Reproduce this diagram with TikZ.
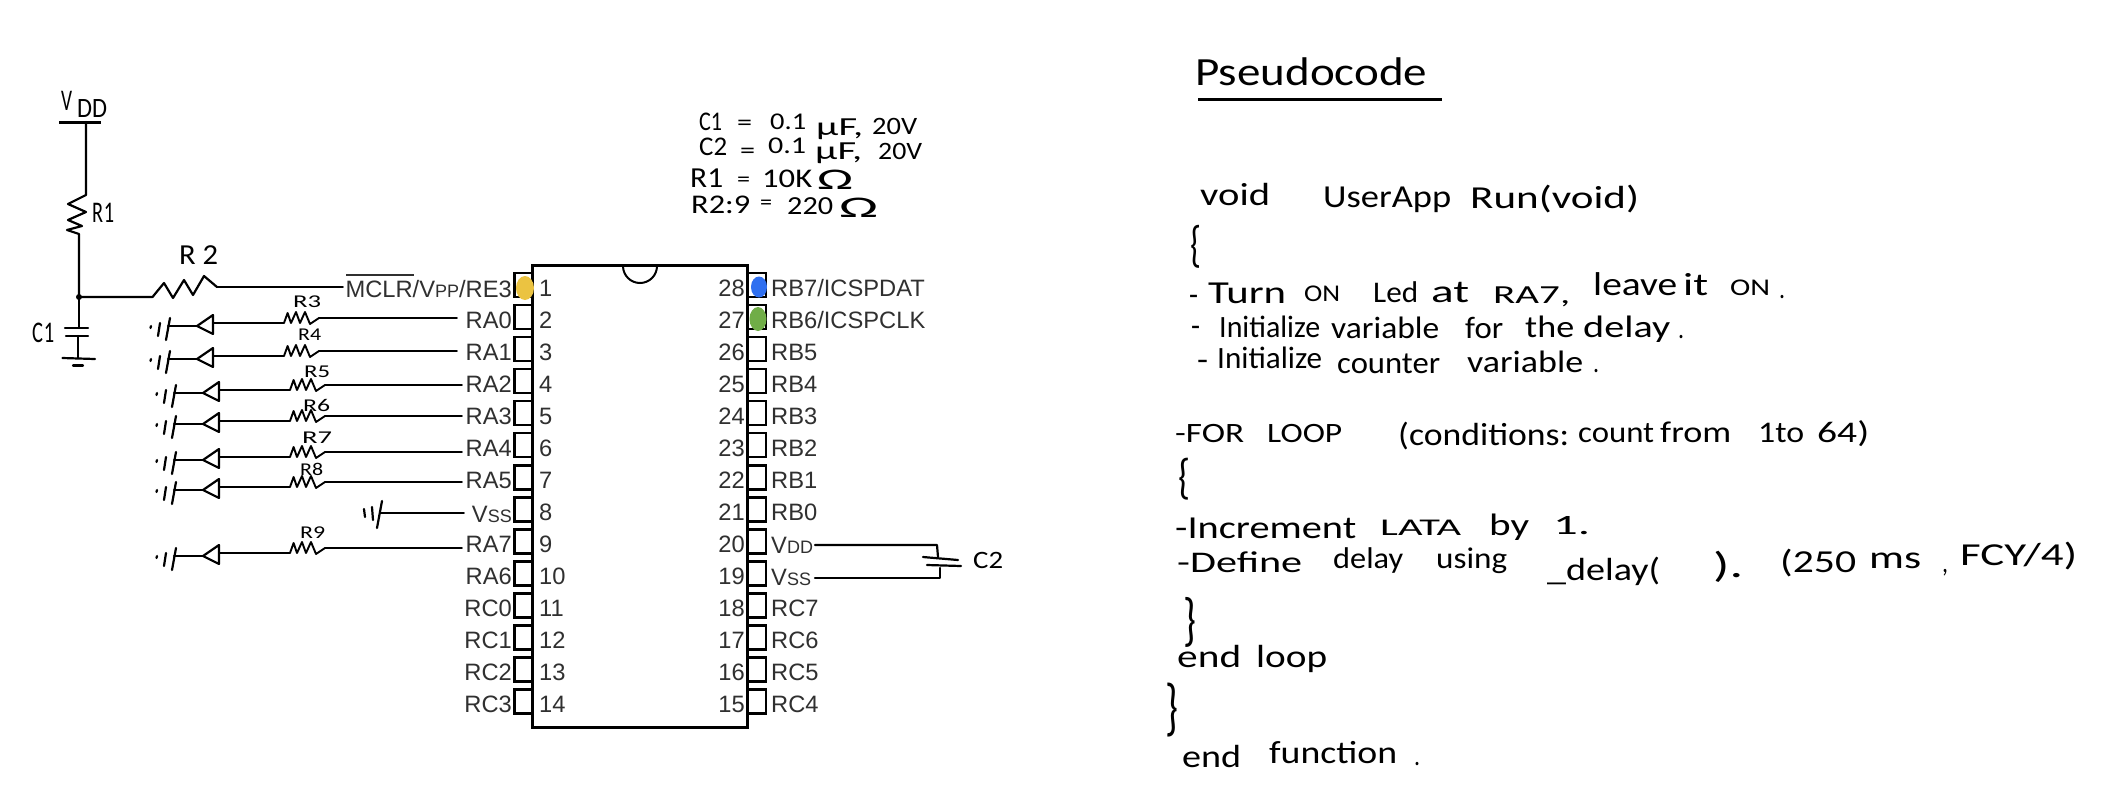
\documentclass[tikz,border=0pt]{standalone}
\usepackage{fontspec}
\usepackage{graphicx}
\setmainfont{Liberation Sans}
\newfontfamily\handfont{Carlito}
\definecolor{labelgray}{HTML}{303030}
\definecolor{pinyellow}{HTML}{EBC341}
\definecolor{pinblue}{HTML}{2F6FF0}
\definecolor{pingreen}{HTML}{70AD47}
\newcounter{hwc}
\tikzset{
  wire/.style={draw=black,line width=2.2pt,line cap=round,line join=round},
  thinwire/.style={draw=black,line width=1.9pt,line cap=round,line join=round},
  chip/.style={draw=black,line width=3pt},
  pinbox/.style={draw=black,line width=2.4pt,fill=white,minimum width=18pt,minimum height=24pt,inner sep=0pt},
  pinlabel/.style={inner sep=0pt,text=labelgray,font=\fontsize{23.7}{24}\selectfont},
  hand/.style={inner sep=0pt,anchor=base west,text=black},
  handbrace/.style={inner sep=0pt,anchor=north west,text=black}
}
% handwritten word: x left, x right, baseline y, font size, text
\newcommand{\hw}[5]{\stepcounter{hwc}\pgfmathsetmacro\hww{#2-#1}%
  \node[hand,font=\handfont\fontsize{#4}{#4}\selectfont] (hw\arabic{hwc}) at (#1,#3) {\resizebox{\hww pt}{\height}{#5}};}
% handwritten brace: x left, x right, y top, y bottom, glyph
\newcommand{\hwb}[5]{\stepcounter{hwc}\pgfmathsetmacro\hww{#2-#1}\pgfmathsetmacro\hwh{#4-#3}%
  \node[handbrace,font=\handfont\fontsize{30}{30}\selectfont] (hw\arabic{hwc}) at (#1,#3) {\resizebox*{\hww pt}{\hwh pt}{#5}};}
% LED branch: name, x of resistor start, wire y, wire length
\newcommand{\ledrow}[4]{%
\begin{scope}[shift={(#2,#3)}]
  \coordinate (#1end) at (#4,0);
  \coordinate (#1ra) at (35,0);
  \coordinate (#1rb) at (0,5);
  \coordinate (#1base) at (-71,5);
  \coordinate (#1tip) at (-87,8);
  \coordinate (#1bar) at (-116,8);
  \draw[thinwire] (#1end) -- (#1ra)
     -- (26,6) -- (21,-6) -- (16,5) -- (12,-6) -- (7,5) -- (3.6,-5) -- (#1rb) -- (#1base);
  \draw[wire] (-71,-3) -- (#1tip) -- (-71,16) -- cycle;
  \draw[wire] (#1tip) -- (#1bar);
  \draw[wire] (-114,0) -- (-118,22);
  \draw[wire] (-124,5) -- (-126,18);
  \draw[wire] (-133,8) -- (-133.5,10);
\end{scope}}
\begin{document}
\begin{tikzpicture}[x=1pt,y=-1pt]
\useasboundingbox (0,0) rectangle (2114,804);
\fill[white] (0,0) rectangle (2114,804);

% chip body and notch
\node[chip,minimum width=215pt,minimum height=462pt,inner sep=0pt] (ic) at (639.5,496) {};
\draw[line width=2pt] (623,266) arc[start angle=180,end angle=0,radius=17];

% pins
\foreach \n/\lab in {1/,2/RA0,3/RA1,4/RA2,5/RA3,6/RA4,7/RA5,8/,9/RA7,10/RA6,11/RC0,12/RC1,13/RC2,14/RC3}{
  \pgfmathsetmacro\py{285+32.05*(\n-1)}
  \node[pinbox] (L\n) at (523.5,\py) {};
  \node[pinlabel,anchor=base west] (Ln\n) at (539,\py+11) {\n};
  \node[pinlabel,anchor=base east] (Lt\n) at (512,\py+11) {\lab};
}
\foreach \n/\lab in {28/RB7\slash ICSPDAT,27/RB6\slash ICSPCLK,26/RB5,25/RB4,24/RB3,23/RB2,22/RB1,21/RB0,20/,19/,18/RC7,17/RC6,16/RC5,15/RC4}{
  \pgfmathsetmacro\py{285+32.05*(28-\n)}
  \node[pinbox] (R\n) at (757,\py) {};
  \node[pinlabel,anchor=base east] (Rn\n) at (745,\py+11) {\n};
  \node[pinlabel,anchor=base west] (Rt\n) at (771,\py+11) {\lab};
}
\node[pinlabel,anchor=base east] (mclr) at (512,297) {MCLR/V{\fontsize{18}{18}\selectfont PP}/RE3};
\draw[line width=2pt,draw=labelgray] (346,275) -- (414,275);
\node[pinlabel,anchor=base east] (vssL) at (512,522) {V{\fontsize{18}{18}\selectfont SS}};
\node[pinlabel,anchor=base west] (vddR) at (771,553.5) {V{\fontsize{18}{18}\selectfont DD}};
\node[pinlabel,anchor=base west] (vssR) at (771,585.5) {V{\fontsize{18}{18}\selectfont SS}};

% coloured markers
\fill[pinyellow] (525,288) ellipse[x radius=9,y radius=12];
\fill[pinblue] (759,287) ellipse[x radius=8,y radius=10.5];
\fill[pingreen] (758,319) ellipse[x radius=8.5,y radius=12];

% VDD, R1, junction, C1, ground
\coordinate (vddbarL) at (59,122);
\coordinate (vddbarR) at (101,122);
\coordinate (vddtap) at (86,122);
\coordinate (jn) at (79,297);
\coordinate (r2a) at (152.5,297);
\coordinate (r2b) at (217,287);
\coordinate (mclrend) at (343,287);
\draw[line width=3pt] (vddbarL) -- (vddbarR);
\draw[wire] (vddtap) -- (86,195) -- (68,204) -- (86,212) -- (68,220) -- (82,226) -- (67,230) -- (79,234) -- (jn);
\fill (jn) circle[radius=3];
\draw[wire] (jn) -- (79,328);
\draw[wire] (65,328) -- (88,328);
\draw[wire] (66,336) -- (88,336);
\draw[wire] (78,336) -- (78,358);
\draw[wire] (62.5,358) -- (95,359);
\draw[wire] (73,365.5) -- (83,365.5);

% R2
\draw[wire] (jn) -- (r2a) -- (164,283) -- (173,298) -- (184,280) -- (193,295) -- (204,276) -- (r2b);
\draw[thinwire] (r2b) -- (mclrend);

% LED branches
\ledrow{ra0}{284}{318}{173}
\ledrow{ra1}{284}{351}{173}
\ledrow{ra2}{290}{385}{172}
\ledrow{ra3}{290}{416}{172}
\ledrow{ra4}{290}{452}{172}
\ledrow{ra5}{290}{482}{172}
\ledrow{ra7}{290}{548}{172}

% Vss ground on pin 8
\coordinate (vsswire) at (464,513);
\coordinate (vssbar) at (381,513);
\draw[thinwire] (vsswire) -- (vssbar);
\draw[wire] (382,501) -- (377,528);
\draw[wire] (372,507) -- (373,520);
\draw[wire] (364,509) -- (365,517);

% C2
\coordinate (c2a) at (815,545);
\coordinate (c2b) at (815,578);
\draw[wire] (c2a) -- (937,545) -- (938,557);
\draw[wire] (c2b) -- (940,578) -- (940,568);
\draw[wire] (923,557) -- (958,560);
\draw[wire] (927,565) -- (961,566);

% component labels
\hw{61}{72}{110}{30}{V}
\hw{77}{107}{117}{28}{DD}
\hw{92}{114}{222}{30}{R\kern1pt1}
\hw{179}{218}{264}{29}{R 2}
\hw{32}{54}{342}{30}{C\kern1pt1}
\hw{293}{321}{307}{18}{R3}
\hw{298}{321}{340}{18}{R4}
\hw{304}{330}{377}{18}{R5}
\hw{303}{330}{411}{18}{R6}
\hw{302}{332}{443}{18}{R7}
\hw{300}{323}{475}{18}{R8}
\hw{300}{325}{538}{18}{R9}
\hw{973}{1003}{568}{25}{C2}

% component values
\hw{699}{722}{130}{27}{C1}
\hw{737}{752}{130}{24}{=}
\hw{770}{806}{129}{24}{0.1}
\hw{816}{863}{135}{26}{μF,}
\hw{872}{917}{134}{25}{20V}
\hw{699}{727}{155}{27}{C2}
\hw{740}{755}{158}{24}{=}
\hw{768}{806}{153}{24}{0.1}
\hw{815}{862}{159}{26}{μF,}
\hw{878}{922}{159}{25}{20V}
\hw{690}{723}{187}{29}{R1}
\hw{737}{750}{186}{22}{=}
\hw{762}{812}{187}{27}{10K}
\hw{817}{853}{189}{30}{Ω}
\hw{691}{750}{213}{27}{R2:9}
\hw{760}{772}{209}{22}{=}
\hw{787}{833}{214}{26}{220}
\hw{839}{878}{217}{30}{Ω}

% pseudocode
\hw{1195}{1427}{85}{40}{Pseudocode}
\draw[line width=3pt] (1198,99) -- (1442,99);

\hw{1200}{1270}{205}{32}{void}
\hw{1323}{1451}{207}{32}{UserApp}
\hw{1470}{1639}{208}{32}{Run(void)}
\hwb{1190}{1201}{225}{268}{\{}

\hw{1189}{1198}{305}{32}{-}
\hw{1208}{1286}{303}{32}{Turn}
\hw{1304}{1340}{301}{24}{ON}
\hw{1373}{1418}{302}{30}{Led}
\hw{1431}{1469}{302}{32}{at}
\hw{1493}{1570}{303}{26}{RA7,}
\hw{1593}{1677}{295}{33}{leave}
\hw{1683}{1708}{295}{32}{it}
\hw{1730}{1770}{295}{24}{ON}
\hw{1779}{1785}{298}{28}{.}

\hw{1191}{1200}{336}{32}{-}
\hw{1219}{1320}{337}{31}{Initialize}
\hw{1331}{1439}{338}{31}{variable}
\hw{1465}{1503}{338}{31}{for}
\hw{1525}{1574}{337}{31}{the}
\hw{1583}{1670}{337}{31}{delay}
\hw{1678}{1684}{338}{28}{.}

\hw{1197}{1208}{370}{32}{-}
\hw{1217}{1322}{368}{31}{Initialize}
\hw{1337}{1440}{373}{31}{counter}
\hw{1467}{1583}{372}{31}{variable}
\hw{1593}{1599}{372}{28}{.}

\hw{1175}{1244}{442}{28}{-FOR}
\hw{1267}{1342}{442}{28}{LOOP}
\hw{1398}{1569}{445}{32}{(conditions:}
\hw{1578}{1654}{442}{30}{count}
\hw{1660}{1731}{442}{30}{from}
\hw{1758}{1804}{442}{30}{1to}
\hw{1817}{1869}{442}{30}{64)}
\hwb{1178}{1190}{458}{500}{\{}

\hw{1175}{1356}{538}{32}{-Increment}
\hw{1380}{1461}{535}{24}{LATA}
\hw{1489}{1529}{535}{31}{by}
\hw{1553}{1590}{534}{28}{1.}

\hw{1177}{1302}{572}{30}{-Define}
\hw{1333}{1403}{568}{30}{delay}
\hw{1436}{1507}{568}{30}{using}
\hw{1547}{1660}{580}{32}{\_delay(}
\hw{1713}{1743}{577}{36}{).}
\hw{1780}{1856}{572}{32}{(250}
\hw{1869}{1921}{568}{32}{ms}
\hw{1942}{1948}{572}{28}{,}
\hw{1960}{2077}{565}{32}{FCY/4)}

\hwb{1183}{1196}{597}{647}{\}}
\hw{1177}{1241}{667}{32}{end}
\hw{1256}{1327}{667}{32}{loop}
\hwb{1165}{1178}{683}{737}{\}}
\hw{1182}{1241}{767}{32}{end}
\hw{1269}{1397}{763}{32}{function}
\hw{1414}{1420}{765}{28}{.}
\end{tikzpicture}
\end{document}
